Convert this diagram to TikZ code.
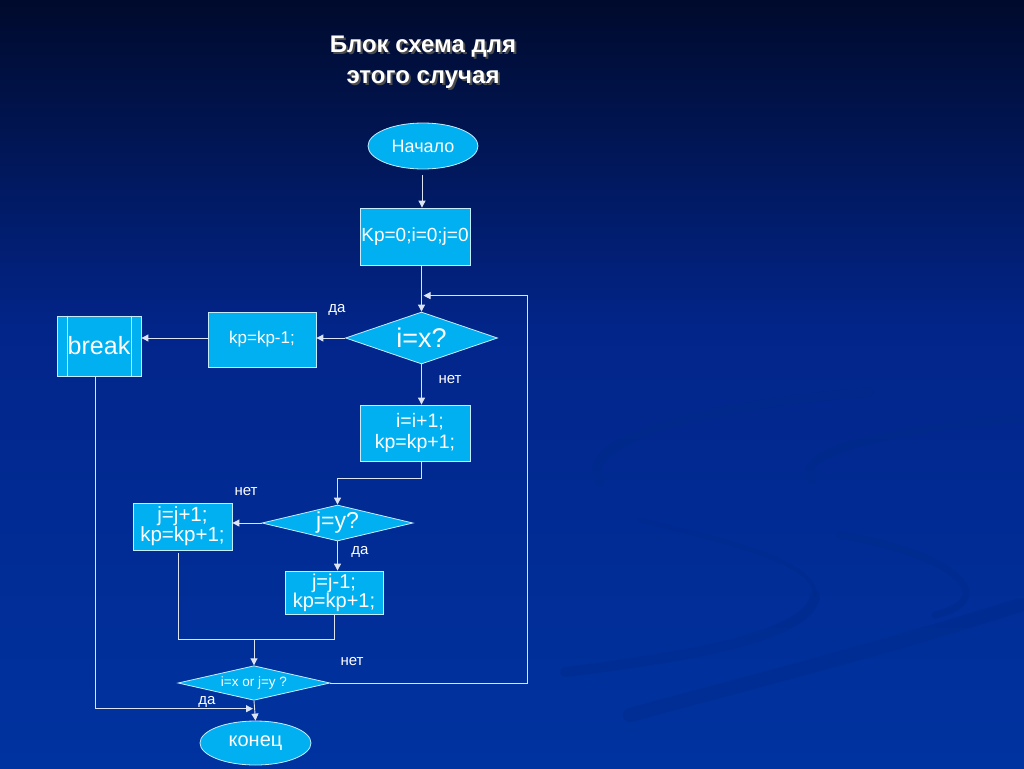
\documentclass[tikz,border=0pt]{standalone}
\usepackage{fontspec}
\setmainfont{Liberation Sans}
\usetikzlibrary{shapes.geometric,arrows.meta,calc}
\definecolor{bgtop}{HTML}{000A2C}
\definecolor{bgmid}{HTML}{02258A}
\definecolor{bgbot}{HTML}{0033A0}
\definecolor{cyanf}{HTML}{00B0F0}
\definecolor{linec}{HTML}{DCE4F4}
\definecolor{edgec}{HTML}{C8ECFF}
\definecolor{swoosh}{HTML}{002A86}
\newcommand{\fsz}[1]{\fontsize{#1}{#1}\selectfont}
\begin{document}
\begin{tikzpicture}[x=1pt,y=-1pt,
  proc/.style={rectangle, draw=edgec, fill=cyanf, text=white, line width=0.8pt, align=center, inner sep=0pt, font=\fsz{17}},
  term/.style={ellipse, draw=edgec, fill=cyanf, text=white, line width=0.8pt, inner sep=0pt, font=\fsz{18}},
  dec/.style={diamond, aspect=3, draw=edgec, fill=cyanf, text=white, line width=0.8pt, inner sep=0pt, font=\fsz{18}},
  lbl/.style={text=white, font=\fsz{15}, inner sep=0pt},
  conn/.style={draw=linec, line width=0.9pt},
  arr/.style={conn, -{Triangle[width=7pt,length=7pt]}},
  ttl/.style={align=center, font=\bfseries\fontsize{24}{31}\selectfont, inner sep=0pt}
]
\useasboundingbox (0,0) rectangle (1024,768);
% background
\shade[top color=bgtop, bottom color=bgmid] (0,0) rectangle (1024,330);
\shade[top color=bgmid, bottom color=bgbot] (0,330) rectangle (1024,768);
% swooshes
\begin{scope}[swoosh, opacity=0.35, line cap=round]
\draw[line width=9pt] (870,392) .. controls (700,405) and (575,440) .. (600,482);
\draw[line width=4pt] (640,520) .. controls (720,540) and (815,560) .. (815,595);
\draw[line width=10pt] (815,595) .. controls (812,640) and (660,660) .. (565,672);
\draw[line width=8pt] (1024,418) .. controls (900,428) and (790,450) .. (812,480);
\draw[line width=7pt] (840,535) .. controls (960,555) and (1000,600) .. (935,615);
\draw[line width=14pt] (1020,605) .. controls (880,650) and (720,690) .. (630,715);
\end{scope}
% title
\node[ttl, text=black!70] (titles) at (425,64) {Блок схема для\\этого случая};
\node[ttl, text=white] (title) at (423,62) {Блок схема для\\этого случая};
% nodes
\node[term, minimum width=110pt, minimum height=46pt] (start) at (423,146) {Начало};
\node[proc, minimum width=110pt, minimum height=57pt, font=\fsz{19}] (init) at (415,236.5) {Kp=0;i=0;j=0};
\node[dec, minimum width=152pt, minimum height=52pt, font=\fsz{27}] (d1) at (421.5,338) {i=x?};
\node[proc, minimum width=108pt, minimum height=55pt] (dec) at (262,339.5) {kp=kp-1;};
\node[proc, minimum width=84pt, minimum height=60pt, font=\fsz{25}] (brk) at (99,346) {break};
\draw[edgec, line width=0.8pt] ([xshift=11pt]brk.north west) -- ([xshift=11pt]brk.south west);
\draw[edgec, line width=0.8pt] ([xshift=-10pt]brk.north east) -- ([xshift=-10pt]brk.south east);
\node[proc, minimum width=110pt, minimum height=56pt, font=\fontsize{19.5}{21}\selectfont] (inc) at (415,433) {\hspace*{10pt}i=i+1;\\kp=kp+1;};
\node[dec, minimum width=151pt, minimum height=36pt, font=\fsz{23}] (d2) at (337.5,523) {j=y?};
\node[proc, minimum width=99pt, minimum height=47pt, font=\fontsize{20.5}{20}\selectfont] (jinc) at (182.5,526.5) {j=j+1;\\kp=kp+1;};
\node[proc, minimum width=98pt, minimum height=43pt, font=\fontsize{20}{19}\selectfont] (jdec) at (334,592.5) {j=j-1;\\kp=kp+1;};
\node[dec, minimum width=152pt, minimum height=34pt, font=\fsz{13.5}] (d3) at (254,683) {i=x or j=y ?};
\node[term, minimum width=111pt, minimum height=44pt, font=\fsz{20}] (end) at (255.5,743) {конец};
% labels
\node[lbl] (l1) at (337,310) {да};
\node[lbl] (l2) at (450,380) {нет};
\node[lbl] (l3) at (246,492) {нет};
\node[lbl] (l4) at (360,552) {да};
\node[lbl] (l5) at (352,662) {нет};
\node[lbl] (l6) at (207,702) {да};
% connectors
\draw[arr] ($(start.south)+(-1,6)$) -- ($(start.south |- init.north)+(-1,0)$);
\draw[arr] (d1.north |- init.south) -- (d1.north);
\coordinate (loopin) at ($(d1.north)+(2,-16)$);
\coordinate (rt) at (527,683);
\draw[arr] (d3.east) -- (rt) |- (loopin);
\draw[arr] (d1.west) -- (d1.west -| dec.east);
\draw[arr] (dec.west |- d1.west) -- (d1.west -| brk.east);
\draw[arr] (d1.south) -- (d1.south |- inc.north);
\draw[arr] (d1.south |- inc.south) -- ++(0,17) -| (d2.north);
\draw[arr] (d2.west) -- (d2.west -| jinc.east);
\draw[arr] (d2.south) -- (d2.south |- jdec.north);
\coordinate (m) at ($(d3.north)+(0,-26)$);
\draw[conn] ($(jinc.south)+(-4.5,3)$) |- (jdec.south |- m) -- (jdec.south);
\draw[arr] (m) -- (d3.north);
\coordinate (bj) at ($(d3.south)+(0,8)$);
\draw[arr] ($(brk.south)+(-4,0)$) |- ([xshift=-1pt]bj);
\draw[arr] (d3.south) -- (end.north);
\end{tikzpicture}
\end{document}
